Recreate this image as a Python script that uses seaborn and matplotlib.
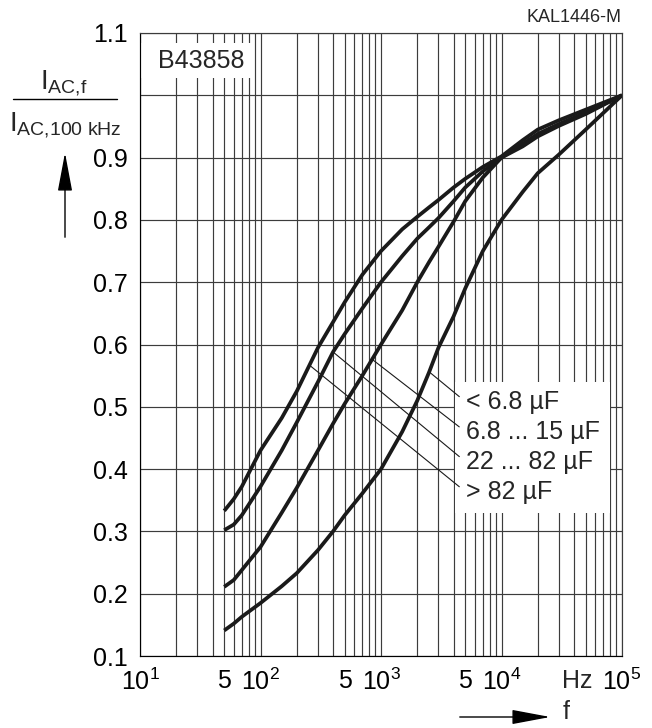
import numpy as np
import pandas as pd
import matplotlib
matplotlib.use("Agg")
import matplotlib.pyplot as plt
import seaborn as sns
from matplotlib.ticker import LogLocator, NullFormatter
from matplotlib.patches import Rectangle

# values (I_AC,f / I_AC,100kHz vs. f)
freq = [50, 60, 70, 100, 150, 200, 300, 400, 500, 700, 1000, 1500, 2000, 2500,
        3000, 4000, 5000, 7000, 10000, 15000, 20000, 30000, 50000, 100000]
gt_82uF = [0.333, 0.352, 0.372, 0.43, 0.482, 0.525, 0.595, 0.636, 0.668, 0.712,
           0.75, 0.785, 0.805, 0.82, 0.832, 0.852, 0.866, 0.885, 0.902, 0.928,
           0.945, 0.96, 0.977, 1.0]
c22_82uF = [0.302, 0.311, 0.326, 0.372, 0.43, 0.475, 0.54, 0.588, 0.617, 0.658,
            0.70, 0.742, 0.77, 0.788, 0.803, 0.83, 0.852, 0.878, 0.9, 0.922,
            0.938, 0.954, 0.972, 1.0]
c68_15uF = [0.211, 0.222, 0.238, 0.275, 0.33, 0.37, 0.43, 0.473, 0.505, 0.55,
            0.60, 0.655, 0.70, 0.732, 0.757, 0.797, 0.83, 0.868, 0.9, 0.918,
            0.934, 0.951, 0.97, 1.0]
lt_68uF = [0.141, 0.152, 0.163, 0.185, 0.212, 0.233, 0.27, 0.30, 0.326, 0.361,
           0.40, 0.46, 0.51, 0.555, 0.595, 0.645, 0.69, 0.75, 0.80, 0.845,
           0.875, 0.905, 0.945, 1.0]

series_labels = ["< 6.8 µF", "6.8 ... 15 µF", "22 ... 82 µF", "> 82 µF"]
series_values = [lt_68uF, c68_15uF, c22_82uF, gt_82uF]
# where each leader line touches its curve
anchor_f = [2550, 860, 400, 258]
anchor_v = [0.555, 0.575, 0.588, 0.566]

xtick_pos = [10, 50, 100, 500, 1000, 5000, 10000, 100000]
xtick_lab = [r"$\mathregular{10^1}$", "5", r"$\mathregular{10^2}$", "5",
             r"$\mathregular{10^3}$", "5", r"$\mathregular{10^4}$",
             r"$\mathregular{10^5}$"]
ytick_pos = [0.1, 0.2, 0.3, 0.4, 0.5, 0.6, 0.7, 0.8, 0.9, 1.0, 1.1]
ytick_lab = ["0.1", "0.2", "0.3", "0.4", "0.5", "0.6", "0.7", "0.8", "0.9", "", "1.1"]

df = pd.concat([pd.DataFrame({"f": freq, "ratio": v, "C": lab})
                for lab, v in zip(series_labels, series_values)])

sns.set_style("white")
plt.rcParams["font.family"] = ["Liberation Sans", "DejaVu Sans"]
plt.rcParams["mathtext.fontset"] = "custom"
plt.rcParams["mathtext.rm"] = "Liberation Sans"
plt.rcParams["mathtext.it"] = "Liberation Sans"

W, H = 652, 728
fig = plt.figure(figsize=(W / 100, H / 100), dpi=100)
ax = fig.add_axes([140 / W, 1 - 656 / H, 482 / W, 623 / H])

grid_col = "#3c3c3c"
sns.lineplot(data=df, x="f", y="ratio", hue="C", palette=["#1a1a1a"] * 4,
             linewidth=2.7, estimator=None, sort=False, legend=False, ax=ax,
             zorder=3, solid_joinstyle="round", solid_capstyle="butt")

ax.set_xscale("log")
ax.set_xlim(10, 1e5)
ax.set_ylim(0.1, 1.1)
ax.xaxis.set_minor_locator(LogLocator(base=10, subs=np.arange(2, 10)))
ax.xaxis.set_minor_formatter(NullFormatter())
ax.set_xticks(xtick_pos)
ax.set_xticklabels(xtick_lab)
ax.set_yticks(ytick_pos)
ax.set_yticklabels(ytick_lab)
ax.tick_params(axis="both", which="both", length=0, labelsize=18, colors="black")
ax.tick_params(axis="x", pad=9)
ax.tick_params(axis="y", pad=9)
ax.set_axisbelow(True)
ax.grid(True, which="both", axis="x", color=grid_col, linewidth=0.85)
ax.grid(True, which="major", axis="y", color=grid_col, linewidth=0.85)
for s in ax.spines.values():
    s.set_color(grid_col)
    s.set_linewidth(0.85)
ax.spines["left"].set_color("black")
ax.spines["bottom"].set_color("black")
ax.set_xlabel("")
ax.set_ylabel("")

# white boxes over the grid
ax.add_patch(Rectangle((0.6535, 0.2295), 0.3215, 0.2105, transform=ax.transAxes,
                       facecolor="white", edgecolor="none", zorder=1))
ax.add_patch(Rectangle((0.002, 0.928), 0.23, 0.056, transform=ax.transAxes,
                       facecolor="white", edgecolor="none", zorder=1))
ax.text(0.037, 0.955, "B43858", transform=ax.transAxes, fontsize=18,
        va="center", ha="left", zorder=4)

# curve labels with leader lines
label_y = [0.4077, 0.3596, 0.3114, 0.2632]
for lab, fx, vy, ty in zip(series_labels, anchor_f, anchor_v, label_y):
    ax.annotate(lab, xy=(fx, vy), xycoords="data",
                xytext=(0.676, ty), textcoords="axes fraction",
                fontsize=18, va="center", ha="left", zorder=4,
                arrowprops=dict(arrowstyle="-", color="#1a1a1a", lw=0.8,
                                shrinkA=3, shrinkB=0, relpos=(0, 0.5)))

ax.text(42400, -0.040, "Hz", transform=ax.get_xaxis_transform(),
        fontsize=18, ha="center", va="center")

# y-axis label as a fraction
fig.text(64 / W, 1 - 83 / H, r"$\mathregular{I_{AC{,}f}}$", fontsize=20,
         ha="center", va="center")
fig.text(65 / W, 1 - 125 / H, r"$\mathregular{I_{AC{,}100\ kHz}}$", fontsize=20,
         ha="center", va="center")
fig.add_artist(plt.Line2D([13 / W, 117 / W], [1 - 99 / H, 1 - 99 / H],
                          color="black", linewidth=1.0))
fig.add_artist(matplotlib.patches.FancyArrowPatch(
    (65 / W, 1 - 240 / H), (65 / W, 1 - 150 / H), transform=fig.transFigure,
    arrowstyle="-|>,head_length=1.6,head_width=0.3", color="black",
    linewidth=1.0, mutation_scale=15))

# x-axis arrow and "f"
fig.add_artist(matplotlib.patches.FancyArrowPatch(
    (457 / W, 1 - 717 / H), (553 / W, 1 - 717 / H), transform=fig.transFigure,
    arrowstyle="-|>,head_length=1.6,head_width=0.3", color="black",
    linewidth=1.0, mutation_scale=15))
fig.text(566 / W, 1 - 712 / H, "f", fontsize=18, ha="center", va="center")

fig.text(622 / W, 1 - 18 / H, "KAL1446-M", fontsize=13, ha="right", va="center")

fig.savefig("out.png", dpi=100, facecolor="white")
